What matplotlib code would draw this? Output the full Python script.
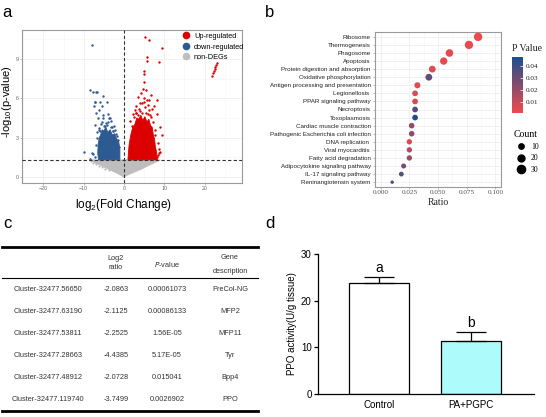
import matplotlib.pyplot as plt
import numpy as np
from matplotlib.colors import LinearSegmentedColormap, Normalize
from matplotlib.lines import Line2D

plt.rcParams['font.family'] = ['Liberation Sans', 'DejaVu Sans']
plt.rcParams['mathtext.default'] = 'regular'

# ---------------- data: panel a (volcano) ----------------
# dense clouds given as outlines, sparse points listed one by one
grey_x = [-8.3, -7.6, -7.0, -6.2, -5.5, -4.7, -4.0, -3.2, -2.5, -1.8, -1.2, -0.6, -0.2, 0.0,
          0.2, 0.6, 1.2, 1.8, 2.5, 3.2, 4.0, 4.8, 5.5, 6.3, 7.0, 7.7, 8.4, 9.0]
grey_y = [1.3, 1.15, 1.05, 0.95, 0.85, 0.72, 0.62, 0.5, 0.4, 0.3, 0.2, 0.1, 0.03, -0.05,
          0.03, 0.1, 0.18, 0.27, 0.36, 0.45, 0.55, 0.66, 0.78, 0.9, 1.0, 1.1, 1.2, 1.3]
blue_x = [-6.3, -1.0, -1.0, -1.3, -1.8, -2.3, -2.9, -3.4, -4.0, -4.5, -5.0, -5.4, -5.8, -6.1,
          -6.4, -6.5]
blue_y = [1.3, 1.3, 2.1, 2.7, 2.9, 3.3, 3.2, 3.6, 3.4, 3.8, 3.5, 3.6, 3.2, 3.0, 2.5, 1.8]
red_x = [1.0, 8.3, 8.1, 7.8, 7.6, 7.3, 7.0, 6.6, 6.2, 5.7, 5.2, 4.7, 4.2, 3.7, 3.2, 2.7,
         2.2, 1.7, 1.3, 1.1]
red_y = [1.3, 1.3, 1.9, 2.3, 2.9, 3.2, 3.8, 3.9, 4.4, 4.2, 4.6, 4.3, 4.7, 4.4, 4.5, 4.0,
         3.8, 3.2, 2.5, 1.8]

down_x = [-7.86, -8.3, -7.8, -7.0, -6.8, -5.1, -7.3, -7.27, -5.95, -4.3, -7.35, -5.5, -6.1, -3.9,
          -7.0, -5.13, -6.5, -3.47, -5.5, -7.1, -4.3, -3.3, -6.1, -2.65, -6.6, -9.8, -8.0,
          -7.2, -8.4, -7.8, -2.0, -3.0, -4.0, -4.9, -5.8, -6.8, -6.9, -2.5, -3.6, -5.3, -1.5,
          -1.2, -2.2, -4.5, -6.2, -3.2, -4.7, -5.9, -2.8, -1.7]
down_y = [10.02, 6.6, 6.5, 6.46, 6.5, 6.2, 5.75, 5.71, 5.71, 5.71, 5.37, 5.37, 5.12, 4.78,
          4.86, 4.73, 4.48, 4.48, 4.17, 3.97, 3.97, 3.84, 3.72, 3.5, 3.41, 1.87, 1.8,
          1.55, 1.37, 1.76, 3.3, 3.8, 4.2, 3.9, 4.0, 3.0, 2.4, 3.9, 4.5, 4.5, 2.8,
          2.3, 3.6, 4.1, 3.6, 4.3, 3.9, 3.5, 3.5, 3.1]
up_x = [5.2, 6.3, 9.35, 5.8, 5.6, 8.6, 5.05, 5.1, 4.97, 4.63, 5.4, 3.4, 6.7, 5.6, 4.4, 8.1,
        7.5, 2.7, 8.1, 9.35, 8.9, 1.5, 2.2, 3.0, 3.8, 4.6, 5.2, 6.0, 6.8, 7.3, 2.5, 4.1, 5.9,
        6.3, 3.5, 4.9, 7.8, 8.4, 8.6, 7.8, 8.2, 8.5, 8.8, 9.0, 6.2, 7.0, 3.1, 4.3, 1.9, 2.9,
        5.0, 6.5, 7.6, 4.0, 5.5,
        21.8, 22.1, 22.3, 22.5, 22.7, 22.9, 23.1]
up_y = [10.7, 10.4, 9.82, 9.13, 8.8, 8.73, 8.11, 7.86, 7.25, 6.69, 6.59, 6.13, 6.26, 5.88,
        5.63, 5.88, 5.43, 5.13, 4.83, 3.18, 3.8, 4.3, 4.83, 4.9, 5.2, 4.9, 5.3, 4.8, 4.6,
        4.2, 4.6, 5.6, 5.5, 5.1, 4.7, 6.0, 3.2, 2.6, 2.1, 1.45, 1.55, 1.65, 1.8, 1.9, 5.9,
        5.2, 5.4, 6.4, 3.9, 4.9, 5.7, 4.7, 3.6, 5.0, 4.9,
        7.7, 7.95, 8.1, 8.25, 8.4, 8.55, 8.7]
grey_pts_x = [-8.2, -7.6, -7.0, -6.2, -5.4, -4.6, -3.6]
grey_pts_y = [1.2, 1.05, 0.95, 0.85, 0.75, 0.62, 0.5]

# ---------------- data: panel b (KEGG dot plot) ----------------
pathways = ["Ribosome", "Thermogenesis", "Phagosome", "Apoptosis",
            "Protein digestion and absorption", "Oxidative phosphorylation",
            "Antigen processing and presentation", "Legionellosis ",
            "PPAR signaling pathway", "Necroptosis", "Toxoplasmosis",
            "Cardiac muscle contraction", "Pathogenic Escherichia coli infection",
            "DNA replication ", "Viral myocarditis ", "Fatty acid degradation",
            "Adipocytokine signaling pathway", "IL-17 signaling pathway",
            "Reninangiotensin system"]
ratio = [0.085, 0.077, 0.060, 0.055, 0.045, 0.042, 0.032, 0.030, 0.030, 0.030, 0.030,
         0.027, 0.027, 0.025, 0.025, 0.025, 0.020, 0.018, 0.010]
pval = [0.0008, 0.002, 0.003, 0.003, 0.004, 0.033, 0.004, 0.005, 0.005, 0.035, 0.0475,
        0.021, 0.022, 0.005, 0.013, 0.019, 0.027, 0.034, 0.038]
count = [32, 31, 25, 23, 19, 19, 14, 12, 12, 12, 12, 11, 11, 10, 10, 10, 8, 7, 1]
count_legend = [10, 20, 30]

# ---------------- data: panel c (table) ----------------
cluster_ids = ["Cluster-32477.56650", "Cluster-32477.63190", "Cluster-32477.53811",
               "Cluster-32477.28663", "Cluster-32477.48912", "Cluster-32477.119740"]
log2_ratio = ["-2.0863", "-2.1125", "-2.2525", "-4.4385", "-2.0728", "-3.7499"]
p_values = ["0.00061073", "0.00086133", "1.56E-05", "5.17E-05", "0.015041", "0.0026902"]
gene_desc = ["PreCol-NG", "MFP2", "MFP11", "Tyr", "Bpp4", "PPO"]

# ---------------- data: panel d (PPO activity) ----------------
groups = ["Control", "PA+PGPC"]
ppo_mean = [23.8, 11.4]
ppo_err = [1.3, 1.9]
sig_letters = ["a", "b"]

W, H = 546, 417


def box(l, t, r, b):
    return [l / W, 1 - b / H, (r - l) / W, (b - t) / H]


def dot_size(c):
    return 5 + c


fig = plt.figure(figsize=(W / 100, H / 100), dpi=100)

# ================= panel a =================
RED, BLUE, GREY = '#DD0000', '#2E5A92', '#BEBEBE'
ax = fig.add_axes(box(22, 30, 242, 183))
ax.fill(grey_x, grey_y, color=GREY, lw=0.6, ec=GREY, zorder=2)
ax.scatter(grey_pts_x, grey_pts_y, s=2.5, color=GREY, lw=0, zorder=2)
ax.fill(blue_x, blue_y, color=BLUE, lw=0.6, ec=BLUE, zorder=3)
ax.fill(red_x, red_y, color=RED, lw=0.6, ec=RED, zorder=3)
ax.scatter(down_x, down_y, s=3, color=BLUE, lw=0, zorder=3)
ax.scatter(up_x, up_y, s=3, color=RED, lw=0, zorder=3)
ax.axhline(-np.log10(0.05), color='#333333', ls=(0, (3, 2)), lw=0.8, zorder=4)
ax.axvline(0, color='#333333', ls=(0, (3, 2)), lw=0.8, zorder=4)
ax.set_xlim(-25.3, 29.3)
ax.set_ylim(-0.46, 11.2)
ax.set_xticks([-20, -10, 0, 10, 20])
ax.set_xticks([-25, -15, -5, 5, 15, 25], minor=True)
ax.set_yticks([0, 3, 6, 9])
ax.set_yticks([1.5, 4.5, 7.5, 10.5], minor=True)
ax.grid(which='major', color='#EBEBEB', lw=0.5, zorder=0)
ax.grid(which='minor', color='#F5F5F5', lw=0.4, zorder=0)
ax.tick_params(which='major', labelsize=3.8, labelcolor='#666666', length=1.5,
               width=0.4, color='#888888', pad=1)
ax.tick_params(which='minor', length=0)
for s in ax.spines.values():
    s.set_color('#9a9a9a')
    s.set_linewidth(0.8)
ax.set_xlabel('log$_2$(Fold Change)', fontsize=8.5)
ax.xaxis.set_label_coords(0.46, -0.09)
ax.set_ylabel('-log$_{10}$(p-value)', fontsize=8)
ax.yaxis.set_label_coords(-0.036, 0.53)
handles = [Line2D([], [], marker='o', ls='', color=c, markersize=4.5) for c in (RED, BLUE, GREY)]
ax.legend(handles, ['Up-regulated', 'down-regulated', 'non-DEGs'], loc='upper right',
          bbox_to_anchor=(1.03, 1.01), fontsize=5.3, frameon=False, handletextpad=0.1,
          labelspacing=0.45, borderaxespad=0.2)

# ================= panel b =================
serif = ['Liberation Serif', 'DejaVu Serif']
cmap = LinearSegmentedColormap.from_list('pv', ['#EE4A4C', '#1C4E8D'])
norm = Normalize(vmin=min(pval), vmax=max(pval))
ypos = np.arange(len(pathways), 0, -1)
bx = fig.add_axes(box(375, 32, 501, 187))
sc = bx.scatter(ratio, ypos, s=[dot_size(c) for c in count], c=pval, cmap=cmap, norm=norm,
                lw=0, zorder=3)
bx.set_xlim(-0.005, 0.105)
bx.set_ylim(0.4, len(pathways) + 0.6)
bx.set_yticks(ypos)
bx.set_yticklabels(pathways)
bx.set_xticks([0.0, 0.025, 0.05, 0.075, 0.1])
bx.set_xticklabels(['0.000', '0.025', '0.050', '0.075', '0.100'], family=serif)
bx.set_xticks([0.0125, 0.0375, 0.0625, 0.0875], minor=True)
bx.grid(which='major', color='#EBEBEB', lw=0.5, zorder=0)
bx.grid(which='minor', axis='x', color='#F5F5F5', lw=0.4, zorder=0)
bx.tick_params(axis='y', labelsize=4.5, labelcolor='#222222', length=1.5, width=0.4,
               color='#888888', pad=1.5)
bx.tick_params(axis='x', labelsize=5.2, labelcolor='#555555', length=1.5, width=0.4,
               color='#888888', pad=1)
bx.tick_params(which='minor', length=0)
for s in bx.spines.values():
    s.set_color('#9a9a9a')
    s.set_linewidth(0.8)
bx.set_xlabel('Ratio', fontsize=7, family=serif, labelpad=1.5, color='#222222')

cax = fig.add_axes(box(512, 57, 523, 113))
cb = fig.colorbar(sc, cax=cax)
cb.outline.set_visible(False)
cb.set_ticks([0.01, 0.02, 0.03, 0.04])
cax.tick_params(labelsize=5.2, length=2, width=0.5, color='white', direction='in', pad=2)
for t in cax.get_yticklabels():
    t.set_family(serif)
    t.set_color('#222222')
fig.text(512 / W, 1 - 51 / H, 'P Value', fontsize=7, family=serif, color='#222222')

size_handles = [Line2D([], [], marker='o', ls='', color='k',
                       markersize=np.sqrt(dot_size(c))) for c in count_legend]
leg = fig.legend(size_handles, [str(c) for c in count_legend], loc='upper left',
                 bbox_to_anchor=(508 / W, 1 - 125 / H), frameon=False, title='Count',
                 prop={'family': serif, 'size': 5.5},
                 title_fontproperties={'family': serif, 'size': 7},
                 labelspacing=0.45, handletextpad=0.3, borderpad=0.2)
leg._legend_box.align = 'left'

# ================= panel c =================
tab = fig.add_axes(box(0, 235, 265, 417))
tab.set_xlim(0, 265)
tab.set_ylim(417, 235)
tab.axis('off')
col_x = [48, 116, 167, 230]
tab.plot([2, 258], [247, 247], color='k', lw=2)
tab.plot([2, 258], [278, 278], color='k', lw=0.8)
tab.plot([2, 258], [411, 411], color='k', lw=2)
hdr = dict(fontsize=5.3, color='#333333', ha='center', va='center')
tab.text(col_x[1], 259, 'Log2', **hdr)
tab.text(col_x[1], 268, 'ratio', **hdr)
tab.text(col_x[2], 265, '$\\it{P}$-value', **hdr)
tab.text(col_x[3], 258, 'Gene', **hdr)
tab.text(col_x[3], 272, 'description', **hdr)
for i, row in enumerate(zip(cluster_ids, log2_ratio, p_values, gene_desc)):
    for x, s in zip(col_x, row):
        tab.text(x, 290 + 22 * i, s, **hdr)

# ================= panel d =================
dx = fig.add_axes(box(318, 254, 534, 394))
xp = np.arange(len(groups))
dx.bar(xp, ppo_mean, width=0.65, color=['white', '#ADFBFB'], edgecolor='k', lw=0.9, zorder=2)
dx.errorbar(xp, ppo_mean, yerr=[[0] * len(xp), ppo_err], fmt='none', ecolor='k',
            elinewidth=0.9, capsize=10.5, capthick=0.9, zorder=3)
for x, m, e, l in zip(xp, ppo_mean, ppo_err, sig_letters):
    dx.text(x, m + e + 0.5, l, ha='center', va='bottom', fontsize=10)
dx.set_xlim(-0.66, 1.68)
dx.set_ylim(0, 30)
dx.set_yticks([0, 10, 20, 30])
dx.set_xticks(xp)
dx.set_xticklabels(groups)
dx.spines['top'].set_visible(False)
dx.spines['right'].set_visible(False)
dx.spines['left'].set_linewidth(0.9)
dx.spines['bottom'].set_linewidth(0.9)
dx.tick_params(axis='y', labelsize=7, length=3, width=0.9, pad=1.5)
dx.tick_params(axis='x', labelsize=7, length=0, pad=4)
dx.set_ylabel('PPO activity(U/g tissue)', fontsize=7, labelpad=3)

# panel letters
for x, y, l in [(2, 17, 'a'), (265, 17, 'b'), (3, 228, 'c'), (265, 228, 'd')]:
    fig.text(x / W, 1 - y / H, l, fontsize=12, va='baseline')

fig.savefig('out.png', dpi=100)
